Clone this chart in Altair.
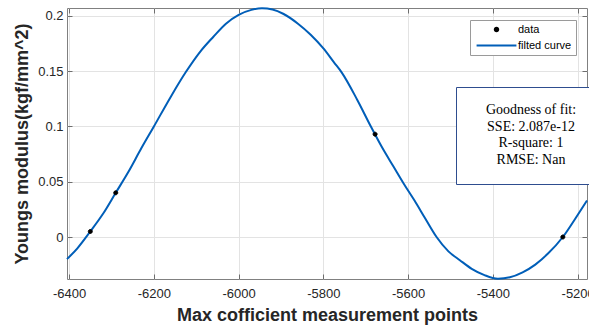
import altair as alt
import pandas as pd

# fitted curve
curve_x = [-6405, -6380, -6350, -6320, -6290, -6260, -6230, -6200, -6160, -6125,
           -6090, -6060, -6030, -6000, -5970, -5945, -5920, -5895, -5860, -5830,
           -5800, -5775, -5757, -5720, -5688, -5660, -5635, -5610, -5585, -5560,
           -5533, -5505, -5478, -5450, -5420, -5388, -5360, -5330, -5300, -5270,
           -5235, -5205, -5178]
curve_y = [-0.020, -0.010, 0.005, 0.021, 0.040, 0.059, 0.080, 0.100, 0.127, 0.149,
           0.168, 0.181, 0.193, 0.201, 0.2055, 0.207, 0.2058, 0.202, 0.193, 0.183,
           0.1706, 0.158, 0.149, 0.124, 0.100, 0.080, 0.064, 0.048, 0.033, 0.017,
           0.000, -0.013, -0.021, -0.0288, -0.0345, -0.0378, -0.0365, -0.032, -0.025, -0.015,
           0.000, 0.017, 0.033]

# measured data points
data_x = [-6350, -6290, -5678, -5235]
data_y = [0.005, 0.040, 0.093, 0.000]

x_ticks = [-6400, -6200, -6000, -5800, -5600, -5400, -5200]
y_ticks = [0, 0.05, 0.1, 0.15, 0.2]
series_names = ["data", "filted curve"]
fit_lines = ["Goodness of fit:", "SSE: 2.087e-12", "R-square: 1", "RMSE: Nan"]
x_title = "Max cofficient measurement points"
y_title = "Youngs modulus(kgf/mm^2)"

BLUE = "#005eb8"
# dot and line symbols share the same horizontal extent so legend rows align
DOT = "M-11.5,0M-1,0A1,1,0,1,1,1,0A1,1,0,1,1,-1,0Z"
DASH = "M-11.5,0H11.5"

curve_df = pd.DataFrame({"x": curve_x, "y": curve_y})
pts_df = pd.DataFrame({"x": data_x, "y": data_y, "series": ["data"] * len(data_x)})
fit_df = pd.DataFrame({"stat": fit_lines})

xscale = alt.Scale(domain=[-6405, -5178], nice=False, zero=False)
yscale = alt.Scale(domain=[-0.038, 0.2072], nice=False, zero=False)

leg1 = alt.Legend(title=None, orient="none", legendX=403, legendY=12, padding=4,
                  strokeColor="#9a9a9a", fillColor="white",
                  labelFont="Liberation Sans", labelFontSize=11, labelColor="black",
                  rowPadding=3, symbolSize=12, symbolStrokeWidth=2,
                  symbolOffset=17, labelOffset=16)

leg2 = alt.Legend(title=None, orient="none", legendX=389, legendY=79, padding=16,
                  strokeColor="#2e4d8f", fillColor="white",
                  labelFont="Liberation Serif", labelFontSize=14, labelColor="black",
                  labelAlign="center", labelOffset=45, rowPadding=2.7,
                  symbolSize=0, symbolStrokeWidth=0, symbolOpacity=0, labelLimit=400)

line = alt.Chart(curve_df).mark_line(color=BLUE, strokeWidth=2, interpolate="monotone").encode(
    x=alt.X("x:Q", scale=xscale,
            axis=alt.Axis(orient="bottom", values=x_ticks, labelExpr="'' + datum.value",
                          offset=-5, tickSize=5, domain=False, grid=True,
                          labelPadding=8, title=x_title, titlePadding=6)),
    y=alt.Y("y:Q", scale=yscale,
            axis=alt.Axis(orient="left", values=y_ticks, labelExpr="'' + datum.value",
                          offset=-5, tickSize=5, domain=False, grid=True,
                          labelPadding=4, title=y_title, titlePadding=6)),
)

points = alt.Chart(pts_df).mark_point(filled=True, size=16, opacity=1, strokeWidth=1).encode(
    x=alt.X("x:Q", scale=xscale,
            axis=alt.Axis(orient="top", values=x_ticks, labels=False, offset=-5, tickSize=5,
                          domain=False, grid=False, title=None)),
    y=alt.Y("y:Q", scale=yscale,
            axis=alt.Axis(orient="right", values=y_ticks, labels=False, offset=-5, tickSize=5,
                          domain=False, grid=False, title=None)),
    fill=alt.Fill("series:N", scale=alt.Scale(domain=series_names, range=["black", "transparent"]), legend=leg1),
    stroke=alt.Stroke("series:N", scale=alt.Scale(domain=series_names, range=["black", BLUE]), legend=leg1),
    shape=alt.Shape("series:N", scale=alt.Scale(domain=series_names, range=[DOT, DASH]), legend=leg1),
)

stats = alt.Chart(fit_df).mark_point(size=0, opacity=0).encode(
    strokeDash=alt.StrokeDash("stat:N", scale=alt.Scale(domain=fit_lines, range=[[1, 0]] * len(fit_lines)),
                              legend=leg2),
)

chart = alt.layer(line, points, stats).resolve_axis(x="independent", y="independent").properties(
    width=520, height=271,
    padding={"left": 67, "top": 8, "right": 2, "bottom": 49},
    autosize=alt.AutoSizeParams(type="none"),
    background="white",
).configure_view(stroke="#808080", strokeWidth=1).configure_axis(
    labelFont="Liberation Sans", labelFontSize=13, labelColor="#262626",
    titleFont="Liberation Sans", titleFontSize=18, titleFontWeight="bold", titleColor="#262626",
    gridColor="#e3e3e3", gridWidth=1, tickColor="#6e6e6e", tickWidth=1,
)

chart.save("out.html", embed_options={"renderer": "svg", "actions": False})
